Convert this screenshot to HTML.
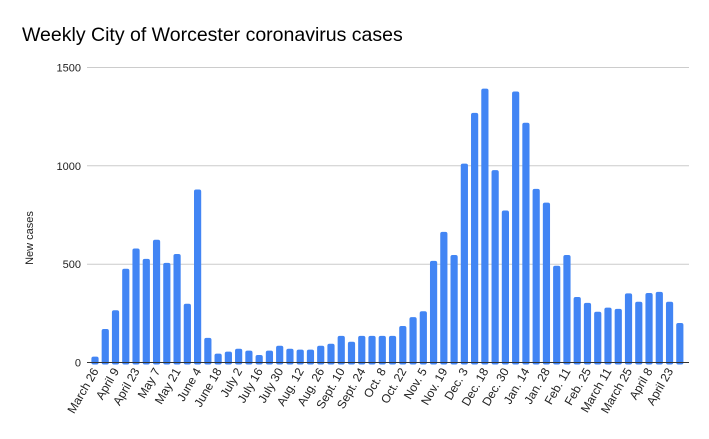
<!DOCTYPE html>
<html><head><meta charset="utf-8"><style>
html,body{margin:0;padding:0;background:#fff;}
svg{display:block;font-family:"Liberation Sans",Arial,sans-serif;}
</style></head><body>
<svg id="c" width="709" height="439" viewBox="0 0 709 439" xmlns="http://www.w3.org/2000/svg">
<rect width="709" height="439" fill="#fff"/>
<text x="22" y="41" font-size="19.5" fill="#000">Weekly City of Worcester coronavirus cases</text>
<g stroke="#cccccc" stroke-width="1">
<line x1="87" x2="689" y1="67.5" y2="67.5"/>
<line x1="87" x2="689" y1="165.8" y2="165.8"/>
<line x1="87" x2="689" y1="264.2" y2="264.2"/>
</g>
<g font-size="11" fill="#222" text-anchor="end">
<text x="81" y="71.5">1500</text>
<text x="81" y="169.8">1000</text>
<text x="81" y="268.2">500</text>
<text x="81" y="366.5">0</text>
</g>
<text transform="translate(33,238) rotate(-90)" font-size="11" fill="#222" text-anchor="middle">New cases</text>
<g id="bars" fill="#4285f4"></g>
<line x1="87" x2="689" y1="362.5" y2="362.5" stroke="#333" stroke-width="1"/>
<g font-size="12" fill="#222" text-anchor="end">
<text transform="translate(99,371) rotate(-60)">March 26</text>
<text transform="translate(119.5,371) rotate(-60)">April 9</text>
<text transform="translate(140,371) rotate(-60)">April 23</text>
<text transform="translate(160.6,371) rotate(-60)">May 7</text>
<text transform="translate(181.1,371) rotate(-60)">May 21</text>
<text transform="translate(201.6,371) rotate(-60)">June 4</text>
<text transform="translate(222.1,371) rotate(-60)">June 18</text>
<text transform="translate(242.6,371) rotate(-60)">July 2</text>
<text transform="translate(263.2,371) rotate(-60)">July 16</text>
<text transform="translate(283.7,371) rotate(-60)">July 30</text>
<text transform="translate(304.2,371) rotate(-60)">Aug. 12</text>
<text transform="translate(324.7,371) rotate(-60)">Aug. 26</text>
<text transform="translate(345.2,371) rotate(-60)">Sept. 10</text>
<text transform="translate(365.8,371) rotate(-60)">Sept. 24</text>
<text transform="translate(386.3,371) rotate(-60)">Oct. 8</text>
<text transform="translate(406.8,371) rotate(-60)">Oct. 22</text>
<text transform="translate(427.3,371) rotate(-60)">Nov. 5</text>
<text transform="translate(447.8,371) rotate(-60)">Nov. 19</text>
<text transform="translate(468.4,371) rotate(-60)">Dec. 3</text>
<text transform="translate(488.9,371) rotate(-60)">Dec. 18</text>
<text transform="translate(509.4,371) rotate(-60)">Dec. 30</text>
<text transform="translate(529.9,371) rotate(-60)">Jan. 14</text>
<text transform="translate(550.4,371) rotate(-60)">Jan. 28</text>
<text transform="translate(571,371) rotate(-60)">Feb. 11</text>
<text transform="translate(591.5,371) rotate(-60)">Feb. 25</text>
<text transform="translate(612,371) rotate(-60)">March 11</text>
<text transform="translate(632.5,371) rotate(-60)">March 25</text>
<text transform="translate(653,371) rotate(-60)">April 8</text>
<text transform="translate(673.6,371) rotate(-60)">April 23</text>
</g>
</svg>
<script>
var v=[30,170,265,475,578,525,622,505,550,298,877,125,45,55,70,60,38,60,85,70,65,65,85,95,135,105,135,135,135,135,185,230,260,515,662,545,1008,1265,1388,975,770,1373,1215,880,810,490,545,332,302,257,278,272,350,308,352,358,308,200];
var g=document.getElementById('bars'),s='';
for(var i=0;i<v.length;i++){var cx=95+i*10.26,h=v[i]*296/1500,y=362.5-h;
s+='<rect x="'+(cx-3.6).toFixed(2)+'" y="'+y.toFixed(2)+'" width="7.2" height="'+(h+2).toFixed(2)+'" rx="2"/>';}
g.innerHTML=s;
</script>
</body></html>
